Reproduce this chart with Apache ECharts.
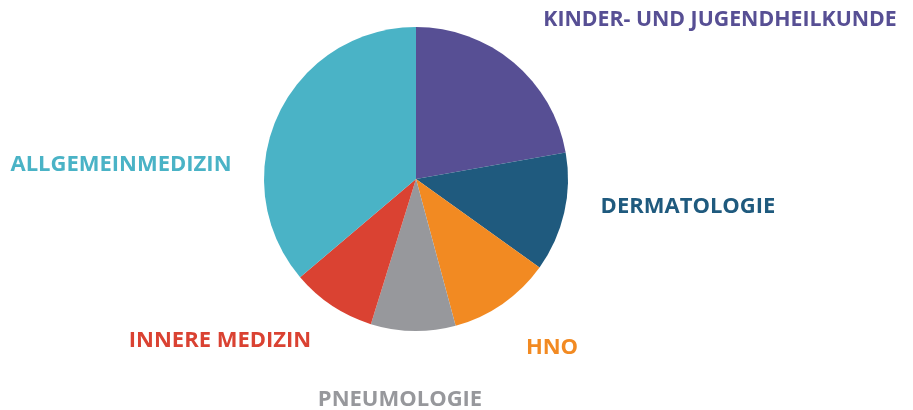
<!DOCTYPE html>
<html>
<head>
    <meta charset="utf-8">
    <title>Fachrichtungen</title>
    <script src="https://cdn.jsdelivr.net/npm/echarts@6/dist/echarts.min.js"></script>
    <style type="text/css">
    html,body{margin:0;padding:0;background:#fff;}
    #main{width:913px;height:410px;}
    </style>
</head>
<body>
    <div id="main"></div>
    <script>
    // Daten
    var categories = ['KINDER- UND JUGENDHEILKUNDE', 'DERMATOLOGIE', 'HNO', 'PNEUMOLOGIE', 'INNERE MEDIZIN', 'ALLGEMEINMEDIZIN'];
    var values = [22.2, 12.7, 10.9, 9.0, 9.0, 36.2];
    var colors = ['#574f94', '#1f5a7e', '#f28a22', '#97989c', '#da4232', '#4ab3c6'];

    // label positions (text centre, px) and sizes
    var labelPos = [[720, 20], [688, 207], [552, 348], [400, 400], [220, 341], [121, 165]];
    var labelSize = [21.3, 22, 22, 22, 22, 22];

    var chart = echarts.init(document.getElementById('main'));
    var data = categories.map(function (c, i) {
        return {name: c, value: values[i], itemStyle: {color: colors[i]}, label: {color: colors[i], fontSize: labelSize[i]}};
    });

    chart.setOption({
        backgroundColor: '#fff',
        animation: false,
        series: [{
            type: 'pie',
            center: [416, 179],
            radius: 152,
            startAngle: 90,
            clockwise: true,
            data: data,
            label: {
                show: true,
                position: 'outside',
                fontFamily: 'Open Sans',
                fontWeight: 'bold',
                fontSize: 22,
                overflow: 'none',
                formatter: '{b}'
            },
            labelLine: {show: false},
            labelLayout: function (p) {
                var pos = labelPos[p.dataIndex];
                return {x: pos[0], y: pos[1], align: 'center', verticalAlign: 'middle'};
            },
            itemStyle: {borderWidth: 0},
            emphasis: {disabled: true}
        }]
    });
    </script>
</body>
</html>
